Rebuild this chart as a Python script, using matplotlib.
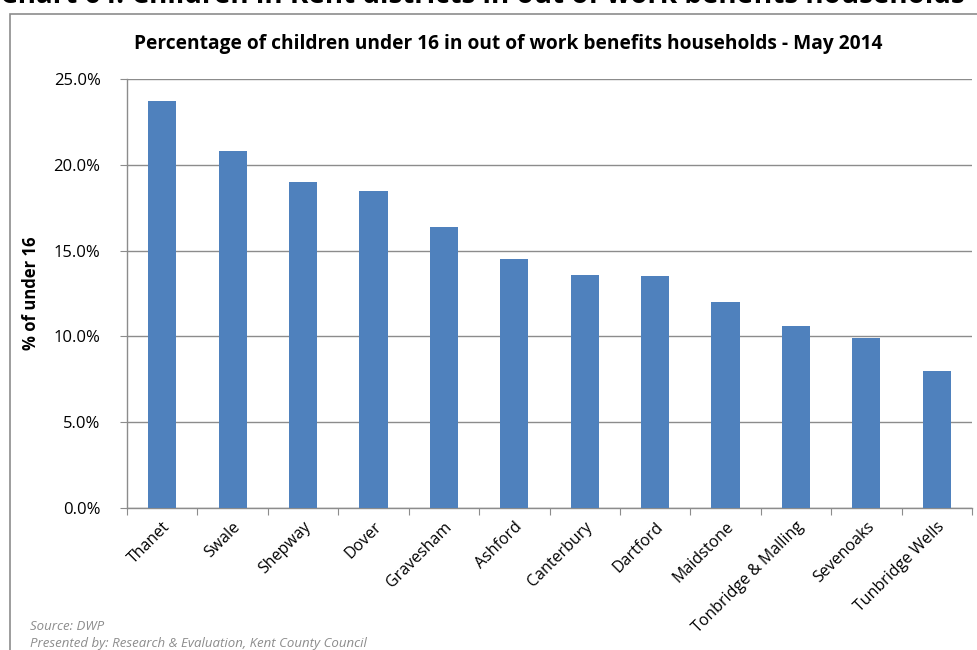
import matplotlib
matplotlib.use("Agg")
import matplotlib.pyplot as plt
from matplotlib.patches import Rectangle
from matplotlib.ticker import FuncFormatter, MultipleLocator

districts = ["Thanet", "Swale", "Shepway", "Dover", "Gravesham", "Ashford",
             "Canterbury", "Dartford", "Maidstone", "Tonbridge & Malling",
             "Sevenoaks", "Tunbridge Wells"]
pct_under16 = [23.7, 20.8, 19.0, 18.5, 16.4, 14.5, 13.6, 13.5, 12.0, 10.6, 9.9, 8.0]

plt.rcParams["font.family"] = ["Open Sans", "DejaVu Sans"]

fig = plt.figure(figsize=(9.77, 6.5), dpi=100)
W, H = 977, 650

# outer chart frame
fig.patches.append(Rectangle((10 / W, -0.01), 1.0, 1 - 14 / H + 0.01,
                             transform=fig.transFigure, fill=False,
                             edgecolor="#8c8c8c", linewidth=1.2))

# page heading, partly cut off at the top
fig.text(0.0, 1 - 3 / H, "Chart 64: Children in Kent districts in out of work benefits households",
         fontsize=20, fontweight="bold", color="black", ha="left", va="baseline")

ax = fig.add_axes([127 / W, 1 - 508 / H, (972 - 127) / W, (508 - 79) / H])
x = range(len(districts))
ax.bar(x, pct_under16, width=0.4, color="#4f81bd", zorder=3)

ax.set_xlim(-0.5, len(districts) - 0.5)
ax.set_ylim(0, 25)
ax.yaxis.set_major_locator(MultipleLocator(5))
ax.yaxis.set_major_formatter(FuncFormatter(lambda v, p: f"{v:.1f}%"))
ax.grid(axis="y", color="#8c8c8c", linewidth=1.0, zorder=0)

for s in ["top", "right"]:
    ax.spines[s].set_visible(False)
for s in ["left", "bottom"]:
    ax.spines[s].set_color("#8c8c8c")
    ax.spines[s].set_linewidth(1.0)

ax.set_xticks([i + 0.5 for i in range(-1, len(districts))], minor=False)
ax.set_xticklabels([])
ax.set_xticks(list(x), minor=True)
ax.set_xticklabels(districts, minor=True, rotation=45, ha="right",
                   rotation_mode="anchor", fontsize=11.5)
ax.tick_params(axis="x", which="major", length=5, color="#8c8c8c")
ax.tick_params(axis="x", which="minor", length=0, pad=8)
ax.tick_params(axis="y", length=5, color="#8c8c8c", labelsize=12, pad=14)

ax.set_ylabel("% of under 16", fontsize=12, fontweight="bold", labelpad=10)

fig.text(508 / W, 1 - 44 / H,
         "Percentage of children under 16 in out of work benefits households - May 2014",
         fontsize=13.8, fontweight="bold", ha="center", va="center")

fig.text(30 / W, 1 - 627 / H, "Source: DWP", fontsize=9.5, style="italic",
         color="#8c8c8c", ha="left", va="center")
fig.text(30 / W, 1 - 644 / H, "Presented by: Research & Evaluation, Kent County Council",
         fontsize=9.5, style="italic", color="#8c8c8c", ha="left", va="center")

fig.savefig("out.png", dpi=100)
